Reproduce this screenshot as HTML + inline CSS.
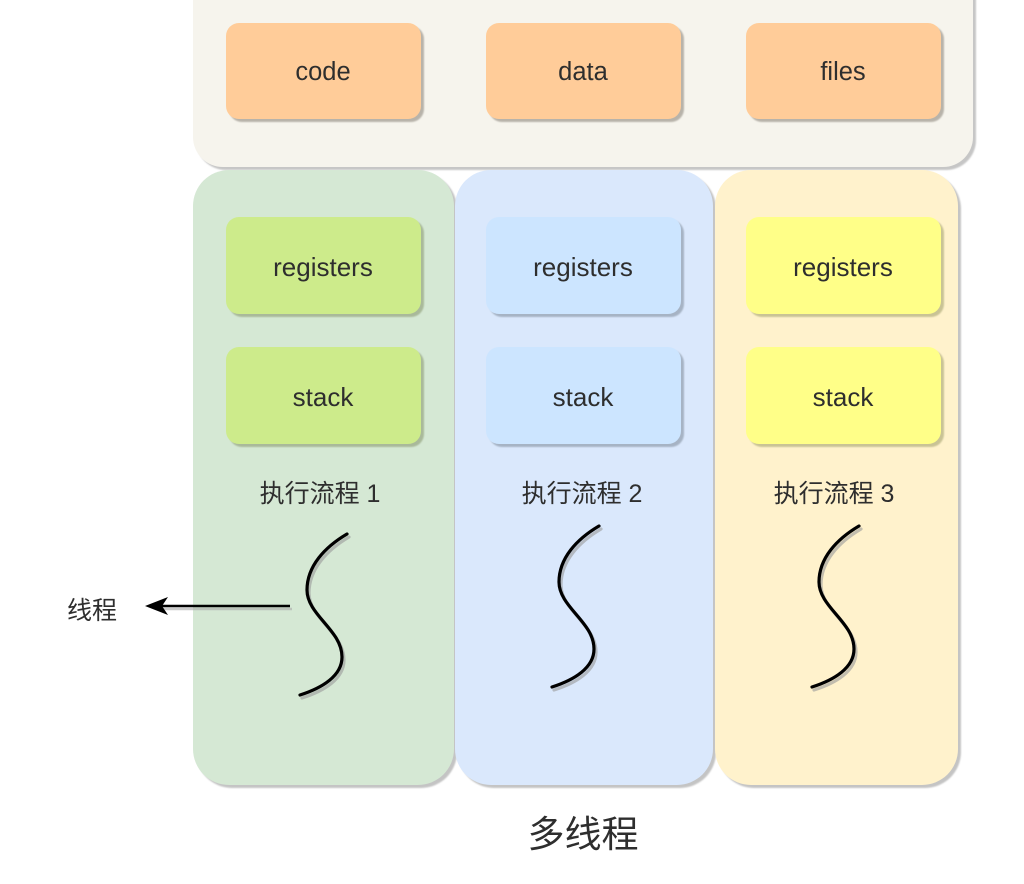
<!DOCTYPE html>
<html><head><meta charset="utf-8"><style>
html,body{margin:0;padding:0;background:#fff;}
svg{display:block;}
text{font-family:"Liberation Sans","Noto Sans CJK SC",sans-serif;fill:#2e2e2e;}
</style></head><body>
<svg width="1024" height="884" viewBox="0 0 1024 884" xmlns="http://www.w3.org/2000/svg">
<defs>
<filter id="sh" x="-10%" y="-10%" width="120%" height="120%"><feGaussianBlur stdDeviation="0.8"/></filter>
</defs>
<!-- top container -->
<rect x="196" y="-30" width="780" height="200" rx="30" fill="#c6c6c6" filter="url(#sh)"/>
<rect x="193" y="-33" width="780" height="200" rx="30" fill="#f6f4ed"/>
<!-- orange boxes -->
<g>
<rect x="229" y="26" width="195" height="96" rx="13" fill="#b8b3aa" filter="url(#sh)"/>
<rect x="226" y="23" width="195" height="96" rx="13" fill="#ffcc99"/>
<rect x="489" y="26" width="195" height="96" rx="13" fill="#b8b3aa" filter="url(#sh)"/>
<rect x="486" y="23" width="195" height="96" rx="13" fill="#ffcc99"/>
<rect x="749" y="26" width="195" height="96" rx="13" fill="#b8b3aa" filter="url(#sh)"/>
<rect x="746" y="23" width="195" height="96" rx="13" fill="#ffcc99"/>
</g>
<text x="323" y="72" font-size="25.5" text-anchor="middle" dominant-baseline="central">code</text>
<text x="583" y="72" font-size="25.5" text-anchor="middle" dominant-baseline="central">data</text>
<text x="843" y="72" font-size="25.5" text-anchor="middle" dominant-baseline="central">files</text>

<!-- columns -->
<rect x="196" y="173" width="261" height="615" rx="36" fill="#c4c4c4" filter="url(#sh)"/>
<rect x="193" y="170" width="261" height="615" rx="36" fill="#d5e8d4"/>
<rect x="458" y="173" width="258" height="615" rx="36" fill="#c4c4c4" filter="url(#sh)"/>
<rect x="455" y="170" width="258" height="615" rx="36" fill="#dae8fc"/>
<rect x="718" y="173" width="243" height="615" rx="36" fill="#c4c4c4" filter="url(#sh)"/>
<rect x="715" y="170" width="243" height="615" rx="36" fill="#fff2cc"/>

<!-- registers / stack -->
<rect x="229" y="220" width="195" height="97" rx="13" fill="#a9b99a" filter="url(#sh)"/>
<rect x="226" y="217" width="195" height="97" rx="13" fill="#cdeb8b"/>
<rect x="229" y="350" width="195" height="97" rx="13" fill="#a9b99a" filter="url(#sh)"/>
<rect x="226" y="347" width="195" height="97" rx="13" fill="#cdeb8b"/>
<rect x="489" y="220" width="195" height="97" rx="13" fill="#a6b3c4" filter="url(#sh)"/>
<rect x="486" y="217" width="195" height="97" rx="13" fill="#cce5ff"/>
<rect x="489" y="350" width="195" height="97" rx="13" fill="#a6b3c4" filter="url(#sh)"/>
<rect x="486" y="347" width="195" height="97" rx="13" fill="#cce5ff"/>
<rect x="749" y="220" width="195" height="97" rx="13" fill="#c9c395" filter="url(#sh)"/>
<rect x="746" y="217" width="195" height="97" rx="13" fill="#ffff88"/>
<rect x="749" y="350" width="195" height="97" rx="13" fill="#c9c395" filter="url(#sh)"/>
<rect x="746" y="347" width="195" height="97" rx="13" fill="#ffff88"/>

<text x="323" y="267" font-size="26" text-anchor="middle" dominant-baseline="central">registers</text>
<text x="323" y="397" font-size="26" text-anchor="middle" dominant-baseline="central">stack</text>
<text x="583" y="267" font-size="26" text-anchor="middle" dominant-baseline="central">registers</text>
<text x="583" y="397" font-size="26" text-anchor="middle" dominant-baseline="central">stack</text>
<text x="843" y="267" font-size="26" text-anchor="middle" dominant-baseline="central">registers</text>
<text x="843" y="397" font-size="26" text-anchor="middle" dominant-baseline="central">stack</text>

<!-- labels -->
<text x="320" y="502" font-size="25" text-anchor="middle">执行流程 1</text>
<text x="582" y="502" font-size="25" text-anchor="middle">执行流程 2</text>
<text x="834" y="502" font-size="25" text-anchor="middle">执行流程 3</text>

<!-- threads -->
<g fill="none" stroke-width="3.2" stroke-linecap="round">
<path d="M347,534 C325,547 307,566 307,590 C307,615 342,630 342,657 C342,676 322,688 300,695" stroke="#999" transform="translate(2,3)" opacity="0.6"/>
<path d="M347,534 C325,547 307,566 307,590 C307,615 342,630 342,657 C342,676 322,688 300,695" stroke="#000"/>
<path d="M347,534 C325,547 307,566 307,590 C307,615 342,630 342,657 C342,676 322,688 300,695" stroke="#999" transform="translate(254,-5)" opacity="0.6"/>
<path d="M347,534 C325,547 307,566 307,590 C307,615 342,630 342,657 C342,676 322,688 300,695" stroke="#000" transform="translate(252,-8)"/>
<path d="M347,534 C325,547 307,566 307,590 C307,615 342,630 342,657 C342,676 322,688 300,695" stroke="#999" transform="translate(514,-5)" opacity="0.6"/>
<path d="M347,534 C325,547 307,566 307,590 C307,615 342,630 342,657 C342,676 322,688 300,695" stroke="#000" transform="translate(512,-8)"/>
</g>

<!-- arrow -->
<line x1="160" y1="609" x2="292" y2="609" stroke="#aaa" stroke-width="2.5" opacity="0.6"/>
<line x1="158" y1="606" x2="290" y2="606" stroke="#000" stroke-width="2.6"/>
<polygon points="145,606 168,597 162,606 168,615" fill="#000"/>
<text x="67" y="619" font-size="25">线程</text>

<text x="583" y="847" font-size="37" text-anchor="middle">多线程</text>
</svg>
</body></html>
